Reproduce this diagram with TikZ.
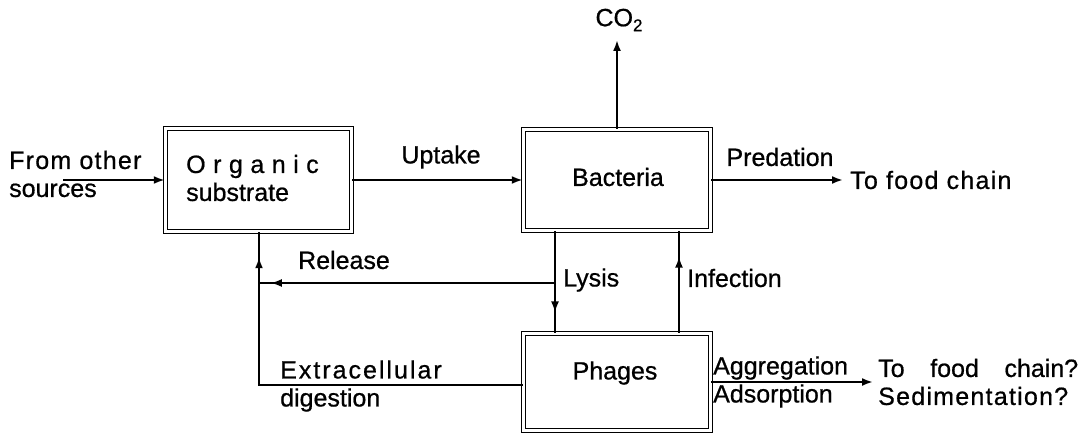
\documentclass[tikz,border=0pt]{standalone}
\usepackage{fontspec}
\setmainfont[FakeBold=0.7]{Liberation Sans}
\usetikzlibrary{arrows.meta,decorations.markings}
\newcommand\lsp{\hspace{7.5pt}}
\tikzset{
  box/.style={draw, double, double distance=2.4pt, line width=1.5pt, inner sep=0pt},
  lbl/.style={inner sep=0pt, align=left, font=\fontsize{25}{28}\selectfont},
  conn/.style={line width=2pt},
  tip/.style={-{Latex[length=11pt,width=8pt]}},
  midtip/.style={decoration={markings, mark=at position #1 with {\arrow{Latex[length=11pt,width=8pt]}}}, postaction={decorate}}
}
\begin{document}
\begin{tikzpicture}[x=1pt,y=-1pt]
\useasboundingbox (0,0) rectangle (1081,436);
% boxes
\node[box, minimum width=186pt, minimum height=103pt] (org) at (258.5,180) {};
\node[box, minimum width=187pt, minimum height=101pt] (bac) at (617,180) {};
\node[box, minimum width=187pt, minimum height=97pt] (pha) at (617,382) {};
% box texts
\node[lbl, anchor=west] (orgtxt) at (186,178) {O\lsp r\lsp g\lsp a\lsp n\lsp i\lsp c\\substrate};
\node[lbl] (bactxt) at (618,177) {Bacteria};
\node[lbl] (phatxt) at (615,373) {Phages};
% coordinates
\coordinate (co2end) at (617,40);
\coordinate (fromstart) at (63,180);
\coordinate (predend) at (843,180);
\coordinate (lysx) at (555,283);
\coordinate (infx) at (679,300);
\coordinate (relend) at (259,283);
\coordinate (ext) at (259,385);
\coordinate (aggend) at (873,382);
% connectors
\draw[conn,tip] (bac.north) -- (co2end);
\draw[conn,tip] (fromstart) -- (org.west);
\draw[conn,tip] (org.east) -- (bac.west);
\draw[conn,tip] (bac.east) -- (predend);
\draw[conn,midtip=0.8] (bac.south -| lysx) -- (pha.north -| lysx);
\draw[conn,midtip=0.75] (pha.north -| infx) -- (bac.south -| infx);
\draw[conn,midtip=0.96] (lysx) -- (relend);
\draw[conn,midtip=0.94] (pha.west |- ext) -- (ext) -- (ext |- org.south);
\draw[conn,tip] (pha.east) -- (aggend);
% labels
\node[lbl] (co2) at (619,20) {CO\raisebox{-5pt}{\fontsize{17}{17}\selectfont 2}};
\node[lbl, anchor=west] (from) at (9,174) {\addfontfeature{LetterSpace=5.0}From other\\sources};
\node[lbl] (uptake) at (441,157) {Uptake};
\node[lbl] (pred) at (780,157) {Predation};
\node[lbl, anchor=west] (tofood) at (850,180) {\addfontfeature{LetterSpace=5.0}To food chain};
\node[lbl] (release) at (344,260) {Release};
\node[lbl, anchor=west] (lysis) at (563,280) {Lysis};
\node[lbl, anchor=west] (infection) at (687,278) {Infection};
\node[lbl, anchor=west] (extra) at (280,386) {\addfontfeature{LetterSpace=8.0}Extracellular\\digestion};
\node[lbl, anchor=west] (agg) at (713,382) {Aggregation\\Adsorption};
\node[lbl, anchor=west] (fate) at (878,382) {\makebox[200pt][s]{To food chain?}\\\addfontfeature{LetterSpace=5.0}Sedimentation?};
\end{tikzpicture}
\end{document}
